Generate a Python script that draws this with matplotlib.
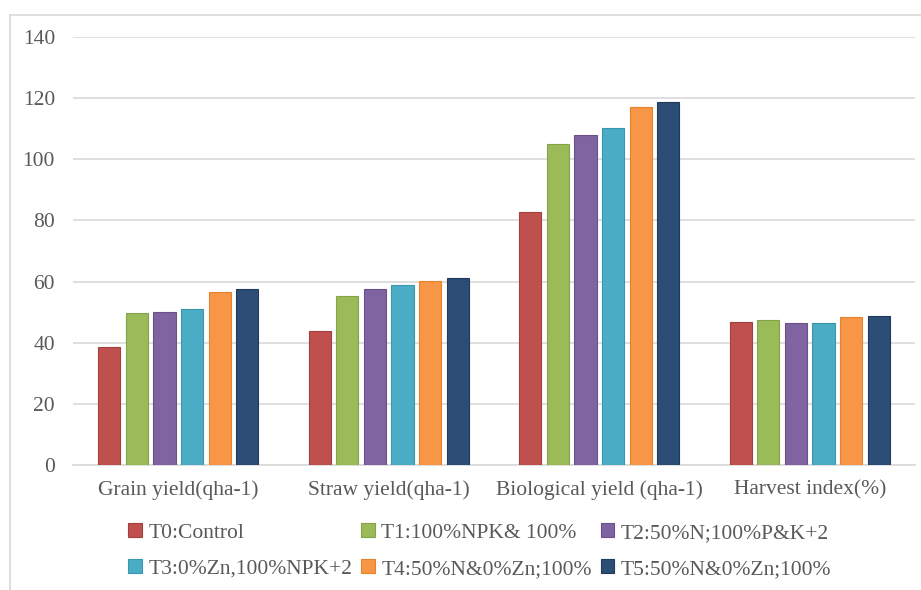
import numpy as np
import matplotlib.pyplot as plt
from matplotlib.lines import Line2D

plt.rcParams['font.family'] = ['Liberation Serif', 'DejaVu Serif']

# categories and treatment values
categories = ['Grain yield(qha-1)', 'Straw yield(qha-1)', 'Biological yield (qha-1)', 'Harvest index(%)']
treatments = ['T0:Control', 'T1:100%NPK& 100%', 'T2:50%N;100%P&K+2',
              'T3:0%Zn,100%NPK+2', 'T4:50%N&0%Zn;100%', 'T5:50%N&0%Zn;100%']
t0 = [38.6, 43.8, 82.8, 46.9]
t1 = [49.8, 55.3, 105.1, 47.3]
t2 = [50.2, 57.7, 107.9, 46.3]
t3 = [51.0, 59.0, 110.2, 46.3]
t4 = [56.7, 60.2, 117.1, 48.3]
t5 = [57.7, 61.3, 118.6, 48.6]
series = [t0, t1, t2, t3, t4, t5]

colors = ['#C0504D', '#9BBB59', '#8064A2', '#4BACC6', '#F79646', '#2C4D75']
edges = ['#A33F3C', '#86A34A', '#6A518A', '#3A95AE', '#E5822E', '#1F3A5C']
grey_txt = '#595959'

fig = plt.figure(figsize=(9.21, 5.90), dpi=100)
ax = fig.add_axes([73/921, 1-465/590, (915-73)/921, (465-37)/590])

x = np.arange(len(categories))
w = 0.105
pitch = 0.131
handles = []
for i, vals in enumerate(series):
    off = (i - 2.5) * pitch
    b = ax.bar(x + off, vals, width=w, color=colors[i], edgecolor=edges[i],
               linewidth=0.8, zorder=3, label=treatments[i])
    handles.append(b)

ax.set_ylim(0, 140)
ax.set_xlim(-0.5, 3.5)
ax.set_yticks(range(0, 141, 20))
ax.yaxis.grid(True, color='#D9D9D9', linewidth=1.2, zorder=0)
ax.set_axisbelow(True)
for s in ['top', 'right', 'left']:
    ax.spines[s].set_visible(False)
ax.spines['bottom'].set_color('#D9D9D9')
ax.spines['bottom'].set_linewidth(1.2)
ax.tick_params(axis='both', length=0, labelsize=15.5, labelcolor=grey_txt)
ax.tick_params(axis='y', pad=13)
ax.tick_params(axis='x', pad=11)
ax.set_xticks(x)
ax.set_xticklabels(categories)

# legend rows: T0 T1 T2 / T3 T4 T5
order = [0, 3, 1, 4, 2, 5]
leg = fig.legend([handles[k] for k in order], [treatments[k] for k in order],
                 ncol=3, loc='upper left', bbox_to_anchor=(128/921, 1-523/590),
                 frameon=False, fontsize=15.5, handlelength=0.65, handleheight=0.65,
                 handletextpad=0.3, columnspacing=0.4, labelspacing=0.76,
                 borderaxespad=0, borderpad=0)
for t in leg.get_texts():
    t.set_color(grey_txt)

# outer chart frame
fy = 1 - 15/590
fx = 10/921
fig.add_artist(Line2D([fx, fx], [0, fy], color='#D9D9D9', linewidth=1.2))
fig.add_artist(Line2D([fx, 1], [fy, fy], color='#D9D9D9', linewidth=1.2))

fig.savefig('out.png', dpi=100)
